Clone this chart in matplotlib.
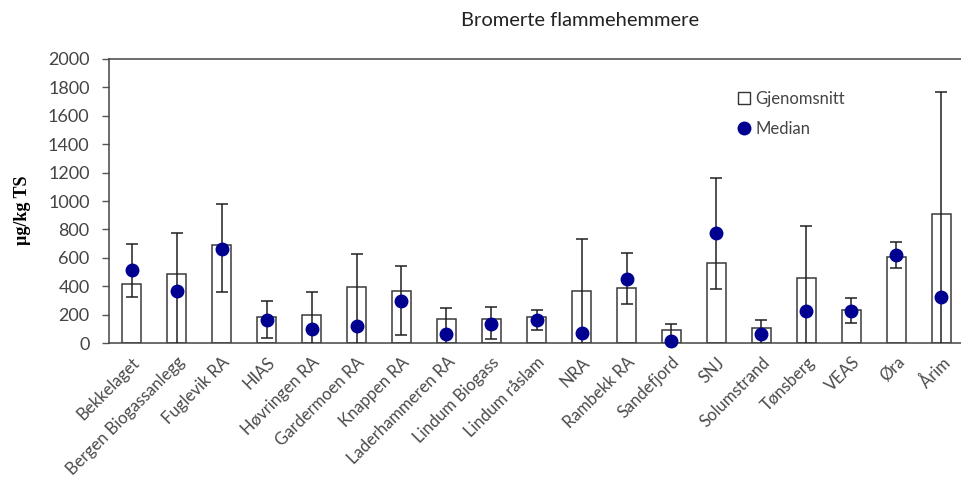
import matplotlib.pyplot as plt
import numpy as np
from matplotlib.lines import Line2D

plt.rcParams['font.family'] = ['Lato', 'DejaVu Sans']

# anlegg
anlegg = ['Bekkelaget', 'Bergen Biogassanlegg', 'Fuglevik RA', 'HIAS', 'Høvringen RA',
          'Gardermoen RA', 'Knappen RA', 'Laderhammeren RA', 'Lindum Biogass',
          'Lindum råslam', 'NRA', 'Rambekk RA', 'Sandefjord', 'SNJ', 'Solumstrand',
          'Tønsberg', 'VEAS', 'Øra', 'Årim']

# gjennomsnitt, median, min og maks (µg/kg TS), lest av figuren
gjennomsnitt = [418, 488, 688, 183, 195, 394, 366, 167, 167, 183, 366, 390, 89, 563, 106, 458, 235, 603, 911]
median = [512, 368, 664, 160, 99, 122, 298, 63, 136, 160, 68, 453, 16, 775, 63, 223, 228, 622, 324]
maks = [697, 775, 976, 296, 357, 624, 540, 244, 251, 235, 732, 634, 136, 1164, 160, 826, 319, 709, 1770]
minimum = [326, 0, 359, 35, 0, 0, 59, 0, 28, 89, 0, 272, 0, 380, 0, 0, 141, 526, 0]

x = np.arange(len(anlegg))
lav = np.array(minimum)

fig = plt.figure(figsize=(9.62, 4.82), dpi=100)
ax = fig.add_axes([109 / 962, 1 - 343 / 482, 855 / 962, 284 / 482])

ax.bar(x, gjennomsnitt, width=0.42, color='white', edgecolor='#3a3a3a', linewidth=1.1, zorder=2)

# feilstolper: linje fra min til maks, endestrek bare der min > 0
ax.vlines(x, lav, maks, color='#202020', linewidth=1.1, zorder=3)
ax.plot(x, maks, '_', color='#202020', markersize=8, markeredgewidth=1.1, zorder=3)
ax.plot(x[lav > 0], lav[lav > 0], '_', color='#202020', markersize=8, markeredgewidth=1.1, zorder=3)

ax.plot(x, median, 'o', color='#000090', markersize=9, zorder=4, clip_on=False)

ax.set_xlim(-0.5, len(anlegg) - 0.5)
ax.set_ylim(0, 2000)
ax.set_yticks(np.arange(0, 2001, 200))
ax.tick_params(axis='y', direction='out', length=5, width=1, color='#555555',
               labelsize=13, labelcolor='#444444', pad=9)
ax.set_xticks(x)
ax.set_xticklabels(anlegg, rotation=45, ha='right', rotation_mode='anchor',
                   fontsize=12, color='#4a4a4a')
ax.tick_params(axis='x', length=0, pad=8)
for s in ax.spines.values():
    s.set_color('#444444')
    s.set_linewidth(1.1)

ax.set_ylabel('µg/kg TS', family=['Liberation Serif'], fontweight='bold', fontsize=13)
ax.yaxis.set_label_coords(-(109 - 31) / 855, (343 - 210) / 284)

handles = [Line2D([], [], marker='s', ls='none', markerfacecolor='white', markeredgecolor='#333333', markersize=9),
           Line2D([], [], marker='o', ls='none', color='#000090', markersize=9)]
fig.legend(handles, ['Gjenomsnitt', 'Median'], loc='upper left', bbox_to_anchor=(722 / 962, 1 - 76 / 482),
           frameon=False, handlelength=0.8, handletextpad=0.3, labelspacing=0.85,
           labelcolor='#444444', prop={'size': 12})

fig.text(580 / 962, 1 - 21 / 482, 'Bromerte flammehemmere', ha='center', va='center', fontsize=14.5, color='#222222')

fig.savefig('out.png', dpi=100)
